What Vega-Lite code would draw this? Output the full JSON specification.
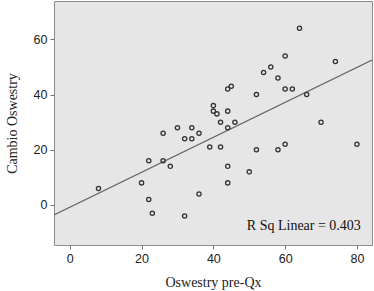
{
  "$schema": "https://vega.github.io/schema/vega-lite/v6.json",
  "width": 318,
  "height": 244,
  "autosize": {"type": "none"},
  "padding": {"left": 54, "top": 1, "right": 2, "bottom": 46},
  "background": "white",
  "config": {
    "view": {"fill": "#e6e6e6", "stroke": "#8c8c8c", "strokeWidth": 1},
    "axis": {
      "domain": false,
      "grid": false,
      "tickColor": "#777777",
      "tickSize": 4,
      "labelFont": "Liberation Sans",
      "labelFontSize": 12.5,
      "labelColor": "#222222",
      "titleFont": "Liberation Serif",
      "titleFontSize": 14,
      "titleFontWeight": "normal",
      "titleColor": "#222222"
    }
  },
  "data": {
    "values": [
      {"pre": 64, "cambio": 64}, {"pre": 60, "cambio": 54}, {"pre": 74, "cambio": 52},
      {"pre": 54, "cambio": 48}, {"pre": 56, "cambio": 50}, {"pre": 58, "cambio": 46},
      {"pre": 44, "cambio": 42}, {"pre": 45, "cambio": 43}, {"pre": 60, "cambio": 42},
      {"pre": 62, "cambio": 42}, {"pre": 52, "cambio": 40}, {"pre": 66, "cambio": 40},
      {"pre": 40, "cambio": 36}, {"pre": 40, "cambio": 34}, {"pre": 41, "cambio": 33},
      {"pre": 44, "cambio": 34}, {"pre": 42, "cambio": 30}, {"pre": 46, "cambio": 30},
      {"pre": 44, "cambio": 28}, {"pre": 70, "cambio": 30}, {"pre": 30, "cambio": 28},
      {"pre": 34, "cambio": 28}, {"pre": 26, "cambio": 26}, {"pre": 36, "cambio": 26},
      {"pre": 32, "cambio": 24}, {"pre": 34, "cambio": 24}, {"pre": 39, "cambio": 21},
      {"pre": 42, "cambio": 21}, {"pre": 60, "cambio": 22}, {"pre": 80, "cambio": 22},
      {"pre": 52, "cambio": 20}, {"pre": 58, "cambio": 20}, {"pre": 22, "cambio": 16},
      {"pre": 26, "cambio": 16}, {"pre": 28, "cambio": 14}, {"pre": 20, "cambio": 8},
      {"pre": 8, "cambio": 6}, {"pre": 44, "cambio": 14}, {"pre": 44, "cambio": 8},
      {"pre": 50, "cambio": 12}, {"pre": 22, "cambio": 2}, {"pre": 23, "cambio": -3},
      {"pre": 36, "cambio": 4}, {"pre": 32, "cambio": -4}
    ]
  },
  "encoding": {
    "x": {
      "field": "pre", "type": "quantitative",
      "scale": {"domain": [-4.4, 84.2], "nice": false, "zero": false},
      "axis": {"values": [0, 20, 40, 60, 80], "title": "Oswestry pre-Qx", "titlePadding": 11, "labelPadding": 3}
    },
    "y": {
      "field": "cambio", "type": "quantitative",
      "scale": {"domain": [-14.5, 73.9], "nice": false, "zero": false},
      "axis": {"values": [0, 20, 40, 60], "title": "Cambio Oswestry", "titlePadding": 14, "labelPadding": 3}
    }
  },
  "layer": [
    {
      "transform": [{"regression": "cambio", "on": "pre", "extent": [-4.4, 84.2]}],
      "mark": {"type": "line", "color": "#666666", "strokeWidth": 1.2, "clip": true}
    },
    {
      "mark": {"type": "point", "shape": "circle", "filled": false, "size": 18, "stroke": "#333333", "strokeWidth": 1.3, "opacity": 1}
    },
    {
      "data": {"values": [{"pre": 81.1, "cambio": -7.6, "label": "R Sq Linear = 0.403"}]},
      "mark": {"type": "text", "align": "right", "baseline": "middle", "font": "Liberation Serif", "fontSize": 14, "color": "#111111"},
      "encoding": {"text": {"field": "label"}}
    }
  ]
}
